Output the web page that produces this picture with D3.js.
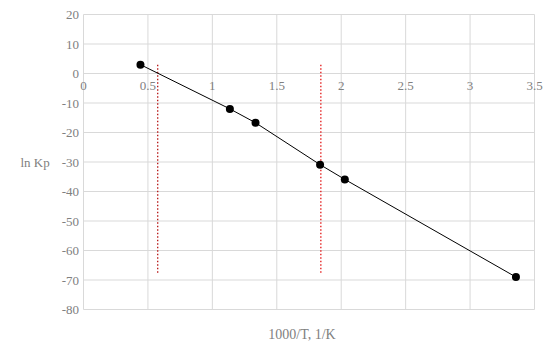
<!DOCTYPE html>
<html><head><meta charset="utf-8">
<script src="https://cdn.jsdelivr.net/npm/d3@7"></script>
<style>body{margin:0;background:#fff}svg text{font-family:"Liberation Serif","DejaVu Serif",serif;fill:#808080}</style>
</head><body>
<svg id="c" width="553" height="362"></svg>
<script>
const xData = [0.442, 1.136, 1.335, 1.836, 2.028, 3.356];
const yData = [3.0, -12.0, -16.7, -30.9, -35.9, -69.0];
const refLines = [
  {x: 0.576, y1: 3, y2: -68, color: "#b00000"},
  {x: 1.842, y1: 3, y2: -68, color: "#e00000"}
];
const xTicks = [0, 0.5, 1, 1.5, 2, 2.5, 3, 3.5];
const yTicks = [20, 10, 0, -10, -20, -30, -40, -50, -60, -70, -80];
const xTitle = "1000/T, 1/K";
const yTitle = "ln Kp";

const svg = d3.select("#c");
const x = d3.scaleLinear().domain([0, 3.5]).range([83.5, 534.5]);
const y = d3.scaleLinear().domain([-80, 20]).range([309.5, 14.5]);

// grid
svg.append("g").selectAll("line").data(yTicks).join("line")
  .attr("x1", x(0)).attr("x2", x(3.5)).attr("y1", d => y(d)).attr("y2", d => y(d))
  .attr("stroke", "#d9d9d9").attr("stroke-width", 1);
svg.append("g").selectAll("line").data(xTicks).join("line")
  .attr("x1", d => x(d)).attr("x2", d => x(d)).attr("y1", y(20)).attr("y2", y(-80))
  .attr("stroke", "#d9d9d9").attr("stroke-width", 1);

// tick labels
svg.append("g").selectAll("text").data(yTicks).join("text")
  .attr("x", 79).attr("y", d => y(d)).attr("dy", "0.35em")
  .attr("text-anchor", "end").attr("font-size", 13).text(d => d);
svg.append("g").selectAll("text").data(xTicks).join("text")
  .attr("x", d => x(d)).attr("y", y(0) + 16)
  .attr("text-anchor", "middle").attr("font-size", 13).text(d => d);

// titles
svg.append("text").attr("x", 35).attr("y", 162).attr("dy", "0.35em")
  .attr("text-anchor", "middle").attr("font-size", 13).text(yTitle);
svg.append("text").attr("x", 302).attr("y", 339)
  .attr("text-anchor", "middle").attr("font-size", 14).text(xTitle);

// reference dotted lines
svg.append("g").selectAll("line").data(refLines).join("line")
  .attr("x1", d => x(d.x)).attr("x2", d => x(d.x))
  .attr("y1", d => y(d.y1)).attr("y2", d => y(d.y2))
  .attr("stroke", d => d.color).attr("stroke-width", 1.2)
  .attr("stroke-dasharray", "1.5,2");

// series
const pts = xData.map((v, i) => [v, yData[i]]);
svg.append("path").datum(pts)
  .attr("d", d3.line().x(d => x(d[0])).y(d => y(d[1])))
  .attr("fill", "none").attr("stroke", "#000").attr("stroke-width", 1);
svg.append("g").selectAll("circle").data(pts).join("circle")
  .attr("cx", d => x(d[0])).attr("cy", d => y(d[1])).attr("r", 4)
  .attr("fill", "#000");
</script>
</body></html>
